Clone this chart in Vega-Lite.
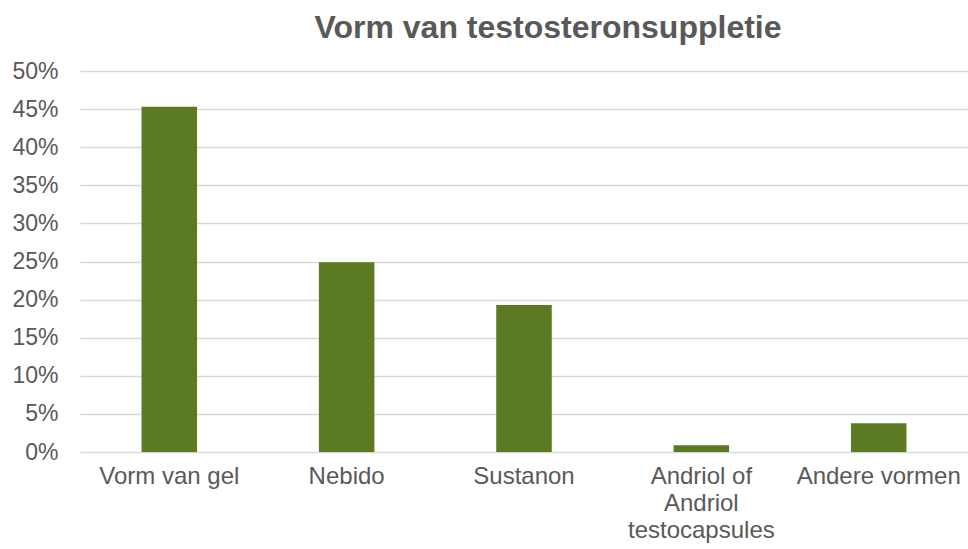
{
  "$schema": "https://vega.github.io/schema/vega-lite/v6.json",
  "autosize": {"type": "none"},
  "width": 888,
  "height": 381,
  "padding": {"left": 80, "top": 71, "right": 0, "bottom": 97},
  "background": "white",
  "config": {"view": {"stroke": null}, "font": "Liberation Sans"},
  "title": {
    "text": "Vorm van testosteronsuppletie",
    "font": "Liberation Sans",
    "fontSize": 32,
    "fontWeight": "bold",
    "color": "#595959",
    "anchor": "middle",
    "frame": "group",
    "baseline": "alphabetic",
    "offset": 33,
    "dx": 24,
    "dy": 43
  },
  "data": {
    "values": [
      {"vorm": "Vorm van gel", "aandeel": 0.453},
      {"vorm": "Nebido", "aandeel": 0.249},
      {"vorm": "Sustanon", "aandeel": 0.193},
      {"vorm": "Andriol of Andriol testocapsules", "aandeel": 0.0088},
      {"vorm": "Andere vormen", "aandeel": 0.0377}
    ]
  },
  "mark": {"type": "bar", "color": "#5C7A22"},
  "encoding": {
    "x": {
      "field": "vorm",
      "type": "nominal",
      "sort": null,
      "scale": {"paddingInner": 0.687, "paddingOuter": 0.347},
      "axis": {
        "title": null,
        "labelAngle": 0,
        "labelFontSize": 24,
        "labelColor": "#595959",
        "labelPadding": 12,
        "labelLineHeight": 27,
        "labelBaseline": "top",
        "ticks": false,
        "domain": false,
        "grid": false,
        "labelExpr": "datum.value == 'Andriol of Andriol testocapsules' ? ['Andriol of', 'Andriol', 'testocapsules'] : datum.label"
      }
    },
    "y": {
      "field": "aandeel",
      "type": "quantitative",
      "scale": {"domain": [0, 0.5]},
      "axis": {
        "title": null,
        "values": [0, 0.05, 0.1, 0.15, 0.2, 0.25, 0.3, 0.35, 0.4, 0.45, 0.5],
        "format": ".0%",
        "labelFontSize": 23,
        "labelColor": "#595959",
        "labelPadding": 22,
        "ticks": false,
        "domain": false,
        "grid": true,
        "gridColor": "#d9d9d9",
        "gridWidth": 1.3
      }
    }
  }
}
